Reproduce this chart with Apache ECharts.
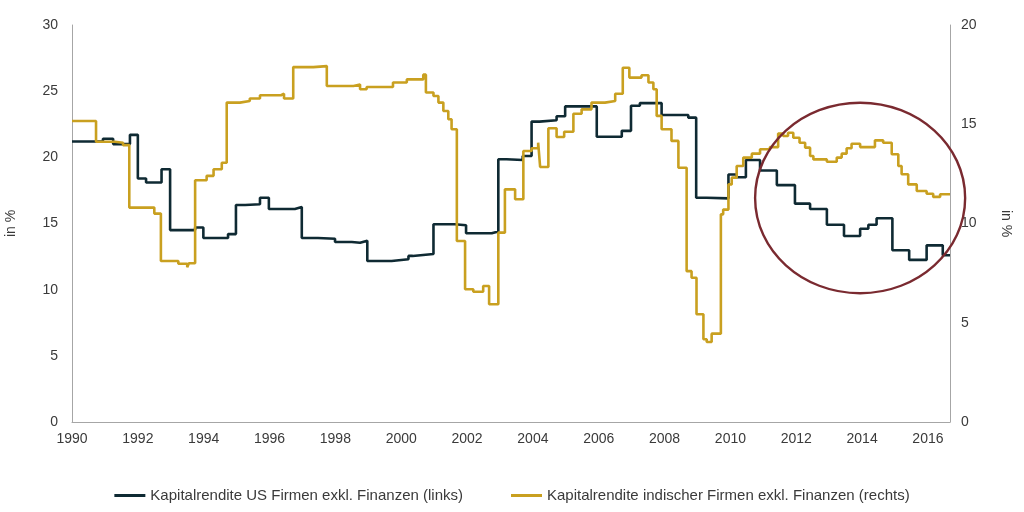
<!DOCTYPE html>
<html>
<head>
<meta charset="utf-8">
<script src="https://cdn.jsdelivr.net/npm/echarts@6/dist/echarts.min.js"></script>
<style>
  html, body { margin: 0; padding: 0; background: #fff; }
  #chart { width: 1024px; height: 512px; }
</style>
</head>
<body>
<div id="chart"></div>
<script>
// Kapitalrendite US (linke Achse): Zeitpunkt der Änderung und neuer Wert
const usYears = [1990, 1990.94, 1991.25, 1991.76, 1992.0, 1992.25, 1992.72, 1992.98, 1993.74, 1993.99,
    1994.74, 1994.98, 1995.26, 1995.71, 1995.98, 1996.77, 1996.98, 1997.47, 1997.99, 1998.5,
    1998.75, 1998.97, 1999.71, 2000.22, 2000.35, 2000.98, 2001.63, 2001.97, 2002.75, 2002.95,
    2003.2, 2003.69, 2003.96, 2004.2, 2004.72, 2004.98, 2005.94, 2006.7, 2006.98, 2007.25,
    2007.91, 2008.72, 2008.96, 2009.28, 2009.94, 2010.19, 2010.47, 2010.9, 2011.41, 2011.96,
    2012.42, 2012.93, 2013.45, 2013.94, 2014.19, 2014.44, 2014.92, 2015.43, 2015.96, 2016.45, 2016.67];
const usValues = [21.2, 21.4, 21.0, 21.7, 18.4, 18.1, 19.1, 14.5, 14.7, 13.9,
    14.2, 16.4, 16.45, 16.95, 16.1, 16.25, 13.9, 13.85, 13.6, 13.55,
    13.7, 12.17, 12.3, 12.55, 12.7, 14.94, 14.87, 14.26, 14.4, 19.86,
    19.8, 20.1, 22.7, 22.8, 23.1, 23.85, 21.55, 22.0, 23.9, 24.1,
    23.2, 23.0, 16.95, 16.9, 18.7, 18.5, 19.8, 19.0, 17.9, 16.5,
    16.1, 14.9, 14.06, 14.6, 14.9, 15.4, 12.98, 12.25, 13.35, 12.6, 12.6];

// Kapitalrendite Indien (rechte Achse)
const inYears = [1990, 1990.73, 1991.3, 1991.55, 1991.74, 1992.5, 1992.7, 1993.23, 1993.5, 1993.55,
    1993.74, 1994.09, 1994.3, 1994.55, 1994.7, 1995.1, 1995.4, 1995.71, 1996.35, 1996.44,
    1996.72, 1997.33, 1997.74, 1998.55, 1998.6, 1998.75, 1998.95, 1999.75, 2000.17, 2000.67,
    2000.75, 2000.98, 2001.13, 2001.28, 2001.43, 2001.53, 2001.69, 2001.94, 2002.19, 2002.49,
    2002.67, 2002.95, 2003.15, 2003.46, 2003.71, 2003.96, 2004.16, 2004.22, 2004.47, 2004.72,
    2004.95, 2005.23, 2005.48, 2005.78, 2006.19, 2006.5, 2006.73, 2006.93, 2007.3, 2007.51,
    2007.66, 2007.76, 2007.91, 2008.21, 2008.42, 2008.67, 2008.82, 2008.97, 2009.18, 2009.28,
    2009.43, 2009.71, 2009.78, 2009.94, 2010.04, 2010.19, 2010.39, 2010.65, 2010.9, 2011.2,
    2011.45, 2011.6, 2011.75, 2011.91, 2012.1, 2012.27, 2012.42, 2012.52, 2012.93, 2013.23,
    2013.38, 2013.53, 2013.68, 2013.94, 2014.39, 2014.64, 2014.9, 2015.1, 2015.2, 2015.4,
    2015.66, 2015.96, 2016.16, 2016.37, 2016.67];
const inValues = [15.16, 14.12, 14.07, 13.95, 10.8, 10.5, 8.11, 7.97, 7.8, 8.0,
    12.18, 12.4, 12.73, 13.06, 16.09, 16.17, 16.3, 16.46, 16.54, 16.3,
    17.88, 17.93, 16.93, 16.84, 17.0, 16.76, 16.88, 17.1, 17.26, 17.5,
    16.6, 16.42, 16.09, 15.67, 15.25, 14.75, 9.12, 6.69, 6.56, 6.85,
    5.93, 9.54, 11.72, 11.22, 13.65, 13.79, 14.07, 12.85, 14.8, 14.36,
    14.62, 15.53, 15.75, 16.09, 16.17, 16.54, 17.85, 17.35, 17.47, 17.1,
    16.76, 15.42, 14.75, 14.16, 12.81, 7.6, 7.27, 5.43, 4.17, 4.03,
    4.45, 10.46, 10.7, 11.97, 12.31, 12.9, 13.32, 13.52, 13.74, 13.85,
    14.53, 14.41, 14.57, 14.32, 14.07, 13.82, 13.4, 13.23, 13.11, 13.32,
    13.52, 13.79, 14.02, 13.85, 14.19, 14.07, 13.49, 12.9, 12.48, 11.97,
    11.64, 11.5, 11.34, 11.47, 11.47];

const usName = 'Kapitalrendite US Firmen exkl. Finanzen (links)';
const inName = 'Kapitalrendite indischer Firmen exkl. Finanzen (rechts)';

// Markierung (Kreis) in Datenkoordinaten der linken Achse
const circleCenter = [2013.94, 16.93];
const circleRadius = [3.19, 7.2];

const fontFamily = "'Liberation Sans', Arial, sans-serif";
const textColor = '#3a3a3a';
const axisColor = '#a6a6a6';

const chart = echarts.init(document.getElementById('chart'));

const option = {
    animation: false,
    textStyle: { fontFamily: fontFamily },
    grid: { left: 72, right: 74, top: 25, bottom: 90, outerBoundsMode: 'none', containLabel: false },
    legend: {
        top: 483,
        left: 'center',
        itemGap: 48,
        itemWidth: 31,
        itemHeight: 3,
        icon: 'rect',
        textStyle: { fontSize: 15, color: textColor, fontFamily: fontFamily },
        data: [usName, inName]
    },
    xAxis: {
        type: 'value',
        min: 1990,
        max: 2016.67,
        interval: 2,
        axisLine: { show: true, lineStyle: { color: axisColor, width: 1 } },
        axisTick: { show: false },
        splitLine: { show: false },
        axisLabel: {
            fontSize: 14,
            color: textColor,
            margin: 10,
            formatter: v => (Math.abs(v - Math.round(v)) < 1e-6 && Math.round(v) % 2 === 0) ? String(Math.round(v)) : ''
        }
    },
    yAxis: [
        {
            type: 'value',
            min: 0,
            max: 30,
            interval: 5,
            position: 'left',
            name: 'in %',
            nameLocation: 'middle',
            nameRotate: 90,
            nameGap: 54,
            nameTextStyle: { fontSize: 14, color: textColor },
            axisLine: { show: true, lineStyle: { color: axisColor, width: 1 } },
            axisTick: { show: false },
            splitLine: { show: false },
            axisLabel: { fontSize: 14, color: textColor, margin: 14 }
        },
        {
            type: 'value',
            min: 0,
            max: 20,
            interval: 5,
            position: 'right',
            name: 'in %',
            nameLocation: 'middle',
            nameRotate: -90,
            nameGap: 49,
            nameTextStyle: { fontSize: 14, color: textColor },
            axisLine: { show: true, lineStyle: { color: axisColor, width: 1 } },
            axisTick: { show: false },
            splitLine: { show: false },
            axisLabel: { fontSize: 14, color: textColor, margin: 11 }
        }
    ],
    series: [
        {
            name: usName,
            type: 'line',
            yAxisIndex: 0,
            step: 'end',
            showSymbol: false,
            data: usYears.map((t, i) => [t, usValues[i]]),
            lineStyle: { color: '#0f2a33', width: 2.6 },
            itemStyle: { color: '#0f2a33' }
        },
        {
            name: inName,
            type: 'line',
            yAxisIndex: 1,
            step: 'end',
            showSymbol: false,
            data: inYears.map((t, i) => [t, inValues[i]]),
            lineStyle: { color: '#c9a020', width: 2.6 },
            itemStyle: { color: '#c9a020' }
        }
    ]
};
chart.setOption(option);

// Ellipse um den Zeitraum 2011-2016 aus Achsenkoordinaten berechnen
const c = chart.convertToPixel({ xAxisIndex: 0, yAxisIndex: 0 }, circleCenter);
const e = chart.convertToPixel({ xAxisIndex: 0, yAxisIndex: 0 },
    [circleCenter[0] + circleRadius[0], circleCenter[1] + circleRadius[1]]);
chart.setOption({
    graphic: [{
        type: 'ellipse',
        z: 10,
        shape: { cx: c[0], cy: c[1], rx: Math.abs(e[0] - c[0]), ry: Math.abs(e[1] - c[1]) },
        style: { fill: 'none', stroke: '#7a2a30', lineWidth: 2.4 }
    }]
});
</script>
</body>
</html>
